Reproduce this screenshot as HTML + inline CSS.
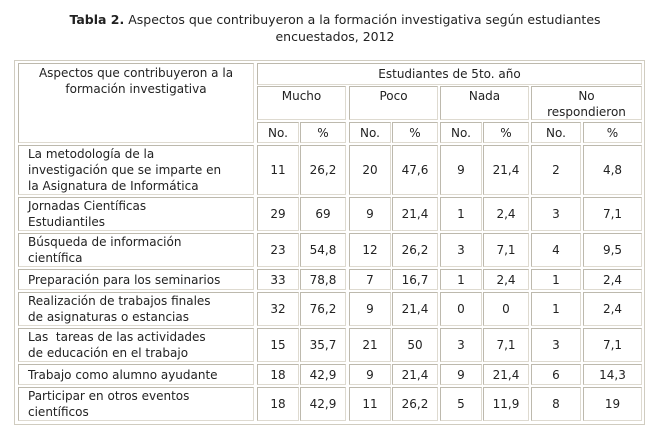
<!DOCTYPE html><html><head><meta charset="utf-8"><style>
body{margin:0;width:670px;height:434px;background:#fff;font-family:"DejaVu Sans","Liberation Sans",sans-serif;font-size:12px;color:#222;position:relative;overflow:hidden}
.t{position:absolute;left:0;width:670px;text-align:center;font-size:12.5px;line-height:17px}
.o{position:absolute;left:14px;top:60px;width:631px;height:365px;border:1px solid #d0ccc0;box-sizing:border-box}
.c{position:absolute;border:1px solid #bdb9ad;border-right-color:#dedad0;border-bottom-color:#dedad0;box-sizing:border-box;display:flex;align-items:center;justify-content:center;text-align:center;line-height:16px}
.top{align-items:flex-start;padding-top:1px}
.l{justify-content:flex-start;text-align:left;padding-left:9px}
</style></head><body>
<div class="t" style="top:11px"><b>Tabla 2.</b> Aspectos que contribuyeron a la formación investigativa según estudiantes</div>
<div class="t" style="top:28px">encuestados, 2012</div>
<div class="o"></div>
<div class="c top" style="left:18px;top:63px;width:236px;height:80px">Aspectos que contribuyeron a la<br>formación investigativa</div>
<div class="c" style="left:257px;top:63px;width:385px;height:22px">Estudiantes de 5to. año</div>
<div class="c top" style="left:257px;top:86px;width:89px;height:34px">Mucho</div>
<div class="c top" style="left:349px;top:86px;width:89px;height:34px">Poco</div>
<div class="c top" style="left:440px;top:86px;width:89px;height:34px">Nada</div>
<div class="c top" style="left:531px;top:86px;width:111px;height:34px">No<br>respondieron</div>
<div class="c" style="left:257px;top:122px;width:42px;height:21px">No.</div><div class="c" style="left:300px;top:122px;width:46px;height:21px">%</div>
<div class="c" style="left:349px;top:122px;width:42px;height:21px">No.</div><div class="c" style="left:392px;top:122px;width:46px;height:21px">%</div>
<div class="c" style="left:440px;top:122px;width:42px;height:21px">No.</div><div class="c" style="left:483px;top:122px;width:46px;height:21px">%</div>
<div class="c" style="left:531px;top:122px;width:50px;height:21px">No.</div><div class="c" style="left:583px;top:122px;width:59px;height:21px">%</div>

<!-- row 1 -->
<div class="c l" style="left:18px;top:145px;width:236px;height:50px">La metodología de la<br>investigación que se imparte en<br>la Asignatura de Informática</div>
<div class="c" style="left:257px;top:145px;width:42px;height:50px">11</div><div class="c" style="left:300px;top:145px;width:46px;height:50px">26,2</div>
<div class="c" style="left:349px;top:145px;width:42px;height:50px">20</div><div class="c" style="left:392px;top:145px;width:46px;height:50px">47,6</div>
<div class="c" style="left:440px;top:145px;width:42px;height:50px">9</div><div class="c" style="left:483px;top:145px;width:46px;height:50px">21,4</div>
<div class="c" style="left:531px;top:145px;width:50px;height:50px">2</div><div class="c" style="left:583px;top:145px;width:59px;height:50px">4,8</div>
<!-- row 2 -->
<div class="c l" style="left:18px;top:197px;width:236px;height:34px">Jornadas Científicas<br>Estudiantiles</div>
<div class="c" style="left:257px;top:197px;width:42px;height:34px">29</div><div class="c" style="left:300px;top:197px;width:46px;height:34px">69</div>
<div class="c" style="left:349px;top:197px;width:42px;height:34px">9</div><div class="c" style="left:392px;top:197px;width:46px;height:34px">21,4</div>
<div class="c" style="left:440px;top:197px;width:42px;height:34px">1</div><div class="c" style="left:483px;top:197px;width:46px;height:34px">2,4</div>
<div class="c" style="left:531px;top:197px;width:50px;height:34px">3</div><div class="c" style="left:583px;top:197px;width:59px;height:34px">7,1</div>
<!-- row 3 -->
<div class="c l" style="left:18px;top:233px;width:236px;height:34px">Búsqueda de información<br>científica</div>
<div class="c" style="left:257px;top:233px;width:42px;height:34px">23</div><div class="c" style="left:300px;top:233px;width:46px;height:34px">54,8</div>
<div class="c" style="left:349px;top:233px;width:42px;height:34px">12</div><div class="c" style="left:392px;top:233px;width:46px;height:34px">26,2</div>
<div class="c" style="left:440px;top:233px;width:42px;height:34px">3</div><div class="c" style="left:483px;top:233px;width:46px;height:34px">7,1</div>
<div class="c" style="left:531px;top:233px;width:50px;height:34px">4</div><div class="c" style="left:583px;top:233px;width:59px;height:34px">9,5</div>
<!-- row 4 -->
<div class="c l" style="left:18px;top:269px;width:236px;height:21px">Preparación para los seminarios</div>
<div class="c" style="left:257px;top:269px;width:42px;height:21px">33</div><div class="c" style="left:300px;top:269px;width:46px;height:21px">78,8</div>
<div class="c" style="left:349px;top:269px;width:42px;height:21px">7</div><div class="c" style="left:392px;top:269px;width:46px;height:21px">16,7</div>
<div class="c" style="left:440px;top:269px;width:42px;height:21px">1</div><div class="c" style="left:483px;top:269px;width:46px;height:21px">2,4</div>
<div class="c" style="left:531px;top:269px;width:50px;height:21px">1</div><div class="c" style="left:583px;top:269px;width:59px;height:21px">2,4</div>
<!-- row 5 -->
<div class="c l" style="left:18px;top:292px;width:236px;height:34px">Realización de trabajos finales<br>de asignaturas o estancias</div>
<div class="c" style="left:257px;top:292px;width:42px;height:34px">32</div><div class="c" style="left:300px;top:292px;width:46px;height:34px">76,2</div>
<div class="c" style="left:349px;top:292px;width:42px;height:34px">9</div><div class="c" style="left:392px;top:292px;width:46px;height:34px">21,4</div>
<div class="c" style="left:440px;top:292px;width:42px;height:34px">0</div><div class="c" style="left:483px;top:292px;width:46px;height:34px">0</div>
<div class="c" style="left:531px;top:292px;width:50px;height:34px">1</div><div class="c" style="left:583px;top:292px;width:59px;height:34px">2,4</div>
<!-- row 6 -->
<div class="c l" style="left:18px;top:328px;width:236px;height:34px">Las&nbsp; tareas de las actividades<br>de educación en el trabajo</div>
<div class="c" style="left:257px;top:328px;width:42px;height:34px">15</div><div class="c" style="left:300px;top:328px;width:46px;height:34px">35,7</div>
<div class="c" style="left:349px;top:328px;width:42px;height:34px">21</div><div class="c" style="left:392px;top:328px;width:46px;height:34px">50</div>
<div class="c" style="left:440px;top:328px;width:42px;height:34px">3</div><div class="c" style="left:483px;top:328px;width:46px;height:34px">7,1</div>
<div class="c" style="left:531px;top:328px;width:50px;height:34px">3</div><div class="c" style="left:583px;top:328px;width:59px;height:34px">7,1</div>
<!-- row 7 -->
<div class="c l" style="left:18px;top:364px;width:236px;height:21px">Trabajo como alumno ayudante</div>
<div class="c" style="left:257px;top:364px;width:42px;height:21px">18</div><div class="c" style="left:300px;top:364px;width:46px;height:21px">42,9</div>
<div class="c" style="left:349px;top:364px;width:42px;height:21px">9</div><div class="c" style="left:392px;top:364px;width:46px;height:21px">21,4</div>
<div class="c" style="left:440px;top:364px;width:42px;height:21px">9</div><div class="c" style="left:483px;top:364px;width:46px;height:21px">21,4</div>
<div class="c" style="left:531px;top:364px;width:50px;height:21px">6</div><div class="c" style="left:583px;top:364px;width:59px;height:21px">14,3</div>
<!-- row 8 -->
<div class="c l" style="left:18px;top:387px;width:236px;height:34px">Participar en otros eventos<br>científicos</div>
<div class="c" style="left:257px;top:387px;width:42px;height:34px">18</div><div class="c" style="left:300px;top:387px;width:46px;height:34px">42,9</div>
<div class="c" style="left:349px;top:387px;width:42px;height:34px">11</div><div class="c" style="left:392px;top:387px;width:46px;height:34px">26,2</div>
<div class="c" style="left:440px;top:387px;width:42px;height:34px">5</div><div class="c" style="left:483px;top:387px;width:46px;height:34px">11,9</div>
<div class="c" style="left:531px;top:387px;width:50px;height:34px">8</div><div class="c" style="left:583px;top:387px;width:59px;height:34px">19</div>
</body></html>
